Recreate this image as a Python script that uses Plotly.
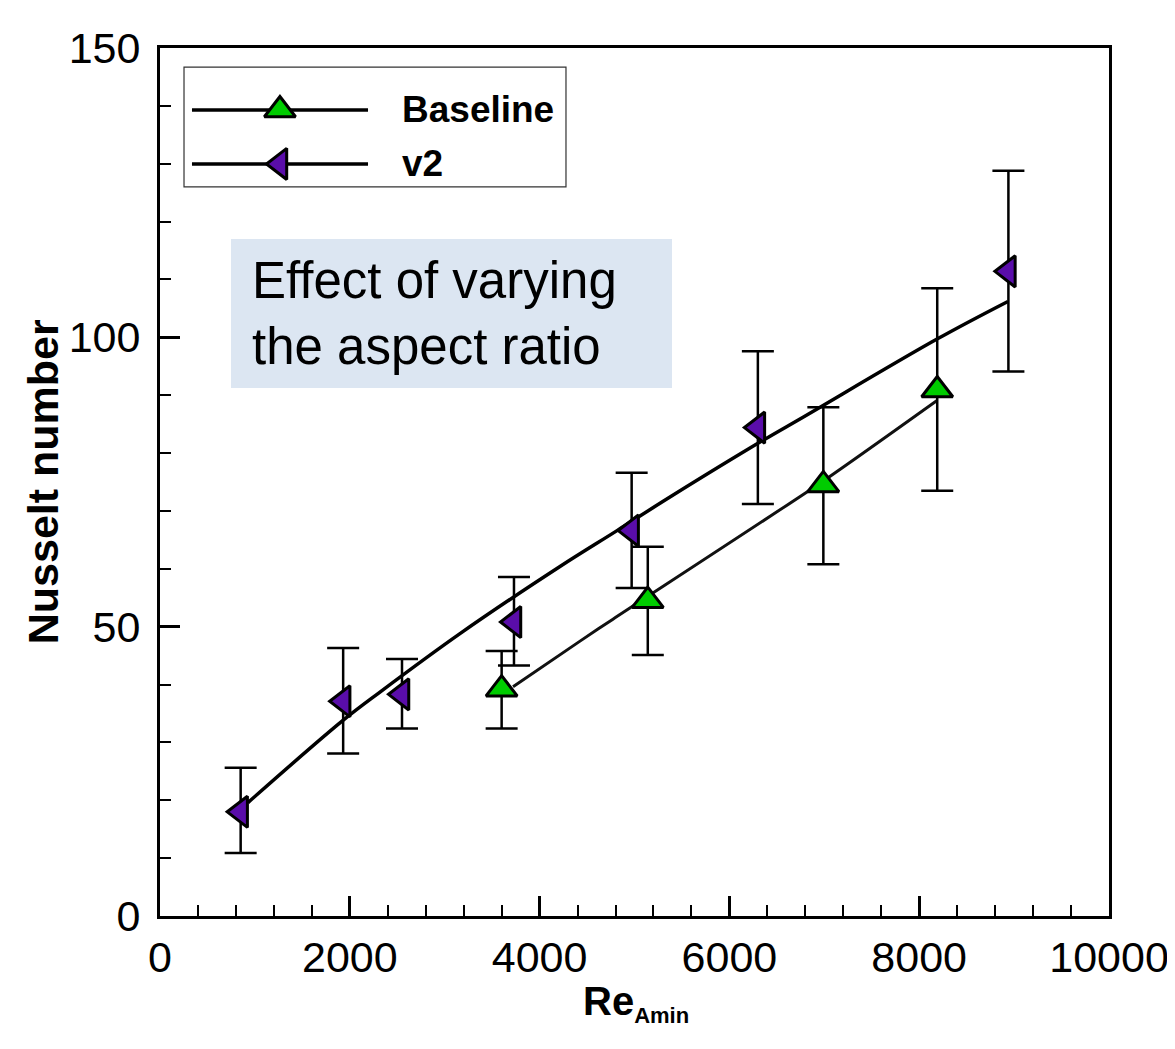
import plotly.graph_objects as go

# ---------------- data ----------------
base_re = [3600, 5140, 6990, 8190]
base_nu = [39.2, 54.5, 74.5, 90.9]
base_hi = [45.8, 63.8, 87.9, 108.5]
base_lo = [32.4, 45.1, 60.8, 73.5]

v2_re = [850, 1930, 2550, 3730, 4970, 6300, 8940]
v2_nu = [18.0, 37.1, 38.3, 50.8, 66.6, 84.4, 111.4]
v2_hi = [25.6, 46.3, 44.4, 58.6, 76.6, 97.6, 128.8]
v2_lo = [10.9, 28.1, 32.4, 43.3, 56.7, 71.2, 94.1]

# correlation (fit) curves
v2_fit_re = [927, 1928, 2318, 3161, 4215, 4816, 5374, 6354, 6776, 8188, 8935]
v2_fit_nu = [19.6, 33.8, 38.7, 48.8, 60.4, 66.6, 72.4, 82.2, 86.2, 99.7, 106.2]

base_fit_re = [3720, 4426, 4773, 6955, 8188]
base_fit_nu = [39.6, 47.5, 51.3, 74.8, 89.1]

x_ticks = [0, 2000, 4000, 6000, 8000, 10000]
x_tick_text = ["0", "2000", "4000", "6000", "8000", "10000"]
y_ticks = [0, 50, 100, 150]
y_tick_text = ["0", "50", "100", "150"]

series_names = ["Baseline", "v2"]
note_lines = ["Effect of varying", "the aspect ratio"]
x_title = "<b>Re</b><sub><b><span style='font-size:22px'>Amin</span></b></sub>"
y_title = "<b>Nusselt number</b>"

# ---------------- styles ----------------
GREEN = "#00CC00"
PURPLE = "#5A0DAA"
FONT = "Liberation Sans, Arial, sans-serif"

def plus(hi, v):
    return [h - c for h, c in zip(hi, v)]

def minus(lo, v):
    return [c - l for l, c in zip(lo, v)]

fig = go.Figure()

# fit curves
fig.add_trace(go.Scatter(x=v2_fit_re, y=v2_fit_nu, mode="lines",
                         line=dict(color="black", width=3.5, shape="spline", smoothing=1.0),
                         hoverinfo="skip"))
fig.add_trace(go.Scatter(x=base_fit_re, y=base_fit_nu, mode="lines",
                         line=dict(color="#111111", width=3, shape="spline", smoothing=0.6),
                         hoverinfo="skip"))

# data with error bars
fig.add_trace(go.Scatter(
    x=base_re, y=base_nu, mode="markers", name=series_names[0],
    marker=dict(symbol="triangle-up", size=27, color=GREEN, line=dict(color="black", width=3)),
    error_y=dict(type="data", symmetric=False, array=plus(base_hi, base_nu),
                 arrayminus=minus(base_lo, base_nu), color="black", thickness=2.5, width=16)))
fig.add_trace(go.Scatter(
    x=v2_re, y=v2_nu, mode="markers", name=series_names[1],
    marker=dict(symbol="triangle-left", size=27, color=PURPLE, line=dict(color="black", width=3)),
    error_y=dict(type="data", symmetric=False, array=plus(v2_hi, v2_nu),
                 arrayminus=minus(v2_lo, v2_nu), color="black", thickness=2.5, width=16)))

# ---------------- manual legend (overlay axis in 0..1 units) ----------------
LEG_BOX = dict(x0=0.0253, x1=0.4278, y0=0.8399, y1=0.978)
LEG_LINE_X = [0.0337, 0.2192]
LEG_MARK_X = 0.1264
LEG_ROWS_Y = [0.9286, 0.8664]
LEG_TEXT_X = 0.2524
leg_symbols = ["triangle-up", "triangle-left"]
leg_colors = [GREEN, PURPLE]

for name, yy, sym, col in zip(series_names, LEG_ROWS_Y, leg_symbols, leg_colors):
    fig.add_trace(go.Scatter(x=LEG_LINE_X, y=[yy, yy], mode="lines", xaxis="x2", yaxis="y2",
                             line=dict(color="black", width=3.5), hoverinfo="skip"))
    fig.add_trace(go.Scatter(x=[LEG_MARK_X], y=[yy], mode="markers", xaxis="x2", yaxis="y2",
                             marker=dict(symbol=sym, size=27, color=col,
                                         line=dict(color="black", width=3)),
                             hoverinfo="skip"))
    fig.add_annotation(x=LEG_TEXT_X, y=yy, xref="paper", yref="paper", xanchor="left",
                       yanchor="middle", showarrow=False,
                       text="<b>%s</b>" % name, font=dict(family=FONT, size=37, color="black"))

fig.add_shape(type="rect", xref="paper", yref="paper", line=dict(color="#333333", width=1.2),
              fillcolor="rgba(0,0,0,0)", **LEG_BOX)

# ---------------- text box ----------------
fig.add_shape(type="rect", xref="paper", yref="paper", x0=0.0748, x1=0.5395, y0=0.6083, y1=0.780,
              line=dict(width=0), fillcolor="#DCE6F2", layer="below")
fig.add_annotation(x=0.0948, y=0.694, xref="paper", yref="paper", xanchor="left", yanchor="middle",
                   align="left", showarrow=False, text="<br>".join(note_lines),
                   font=dict(family=FONT, size=51, color="black"))

# ---------------- axis titles ----------------
fig.add_annotation(x=0.5016, y=-0.101, xref="paper", yref="paper", xanchor="center",
                   yanchor="middle", showarrow=False, text=x_title,
                   font=dict(family=FONT, size=40, color="black"))
fig.add_annotation(x=-0.123, y=0.5, xref="paper", yref="paper", xanchor="center",
                   yanchor="middle", showarrow=False, text=y_title, textangle=-90,
                   font=dict(family=FONT, size=43, color="black"))

axis_common = dict(showline=True, linewidth=3, linecolor="black", mirror=True,
                   ticks="inside", tickwidth=2.5, tickcolor="black", ticklen=20,
                   showgrid=False, zeroline=False, automargin=False,
                   tickfont=dict(family=FONT, size=43, color="black"))

# the page body adds an 8 px offset; the figure is sized to fit the window
fig.update_layout(
    width=1167, height=1033,
    margin=dict(l=152, r=66, t=40, b=125),
    paper_bgcolor="white", plot_bgcolor="white",
    showlegend=False,
    xaxis=dict(range=[0, 10000], tickvals=x_ticks, ticktext=x_tick_text, ticklabelstandoff=1,
               minor=dict(dtick=400, ticks="inside", ticklen=11, tickwidth=1.5, tickcolor="black"),
               **axis_common),
    yaxis=dict(range=[0, 150], tickvals=y_ticks, ticktext=y_tick_text, ticklabelstandoff=8,
               minor=dict(dtick=10, ticks="inside", ticklen=11, tickwidth=1.5, tickcolor="black"),
               **axis_common),
    xaxis2=dict(overlaying="x", anchor="y2", range=[0, 1], visible=False),
    yaxis2=dict(overlaying="y", anchor="x2", range=[0, 1], visible=False),
)

fig.write_html("out.html")
